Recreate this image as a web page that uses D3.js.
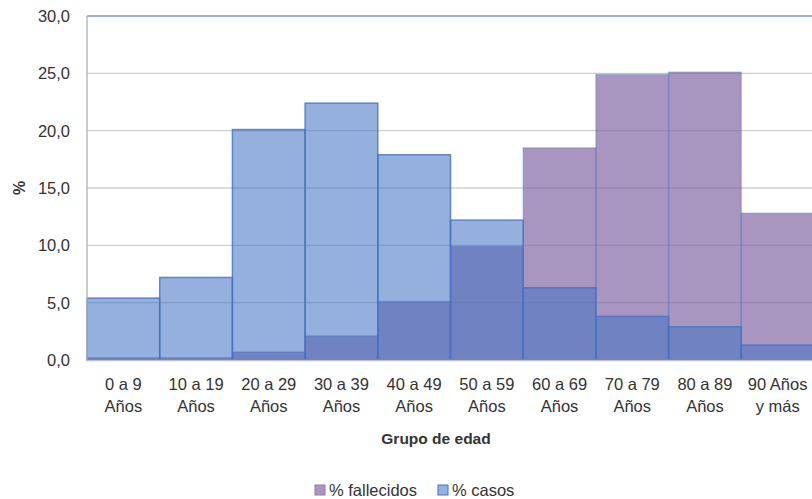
<!DOCTYPE html>
<html><head><meta charset="utf-8">
<script src="https://cdn.jsdelivr.net/npm/d3@7"></script>
<style>body{margin:0;background:#fff}svg{display:block;font-family:"Liberation Sans",Arial,sans-serif}</style>
</head><body>
<svg id="c" width="812" height="499"></svg>
<script>
const catLine1 = ["0 a 9","10 a 19","20 a 29","30 a 39","40 a 49","50 a 59","60 a 69","70 a 79","80 a 89","90 Años"];
const catLine2 = ["Años","Años","Años","Años","Años","Años","Años","Años","Años","y más"];
const casos = [5.4, 7.2, 20.1, 22.4, 17.9, 12.2, 6.3, 3.8, 2.9, 1.3];
const fallecidos = [0.2, 0.2, 0.7, 2.1, 5.1, 9.9, 18.5, 24.9, 25.1, 12.8];
const yTicks = [0,5,10,15,20,25,30];
const seriesNames = ["% fallecidos","% casos"];

const svg = d3.select("#c");
const x = d3.scaleBand().domain(d3.range(catLine1.length)).range([87, 814]).padding(0);
const y = d3.scaleLinear().domain([0,30]).range([360,16]);
const fmt = v => d3.format(".1f")(v).replace(".", ",");

// gridlines
svg.append("g").selectAll("line").data(yTicks.filter(t=>t>0 && t<30)).join("line")
  .attr("x1",87).attr("x2",814).attr("y1",d=>y(d)).attr("y2",d=>y(d))
  .attr("stroke","#d0d0d0").attr("stroke-width",1.3);
svg.append("line").attr("x1",87).attr("x2",814).attr("y1",y(30)).attr("y2",y(30))
  .attr("stroke","#7896d4").attr("stroke-width",1.5);

// fallecidos bars
svg.append("g").selectAll("rect").data(fallecidos).join("rect")
  .attr("x",(d,i)=>x(i)).attr("width",x.bandwidth())
  .attr("y",d=>y(d)).attr("height",d=>y(0)-y(d))
  .attr("fill","#8064A2").attr("fill-opacity",0.68)
  .attr("stroke","#4472C4").attr("stroke-opacity",0.35).attr("stroke-width",1.5);
// casos bars
svg.append("g").selectAll("rect").data(casos).join("rect")
  .attr("x",(d,i)=>x(i)).attr("width",x.bandwidth())
  .attr("y",d=>y(d)).attr("height",d=>y(0)-y(d))
  .attr("fill","#4472C4").attr("fill-opacity",0.56)
  .attr("stroke","#4472C4").attr("stroke-opacity",0.8).attr("stroke-width",1.5);

// axes lines
svg.append("line").attr("x1",87).attr("x2",87).attr("y1",16).attr("y2",360).attr("stroke","#b0b0b0").attr("stroke-width",1.3);
svg.append("line").attr("x1",87).attr("x2",814).attr("y1",360.5).attr("y2",360.5).attr("stroke","#c0c0c0").attr("stroke-width",1.5);

// y tick labels
svg.append("g").selectAll("text").data(yTicks).join("text")
  .attr("x",70).attr("y",d=>y(d)+6).attr("text-anchor","end")
  .attr("font-size",16.5).attr("fill","#333").text(fmt);

// x labels
const xl = svg.append("g");
xl.selectAll("text.l1").data(catLine1).join("text").attr("class","l1")
  .attr("x",(d,i)=>x(i)+x.bandwidth()/2).attr("y",390).attr("text-anchor","middle")
  .attr("font-size",16.5).attr("fill","#333").text(d=>d);
xl.selectAll("text.l2").data(catLine2).join("text").attr("class","l2")
  .attr("x",(d,i)=>x(i)+x.bandwidth()/2).attr("y",412).attr("text-anchor","middle")
  .attr("font-size",16.5).attr("fill","#333").text(d=>d);

// axis titles
svg.append("text").attr("x",436).attr("y",444).attr("text-anchor","middle")
  .attr("font-size",15.5).attr("font-weight","bold").attr("fill","#333").text("Grupo de edad");
svg.append("text").attr("transform","translate(25,188) rotate(-90)").attr("text-anchor","middle")
  .attr("font-size",16).attr("font-weight","bold").attr("fill","#333").text("%");

// legend
const leg = [{name:seriesNames[0],fill:"#a897bb",stroke:"#8e7ab0",x:315,tx:329},
             {name:seriesNames[1],fill:"#95b1df",stroke:"#4472C4",x:438,tx:452}];
const lg = svg.append("g").selectAll("g").data(leg).join("g");
lg.append("rect").attr("x",d=>d.x).attr("y",485).attr("width",10).attr("height",10)
  .attr("fill",d=>d.fill).attr("stroke",d=>d.stroke).attr("stroke-width",1);
lg.append("text").attr("x",d=>d.tx).attr("y",496).attr("font-size",16.5).attr("fill","#333").text(d=>d.name);
</script>
</body></html>
